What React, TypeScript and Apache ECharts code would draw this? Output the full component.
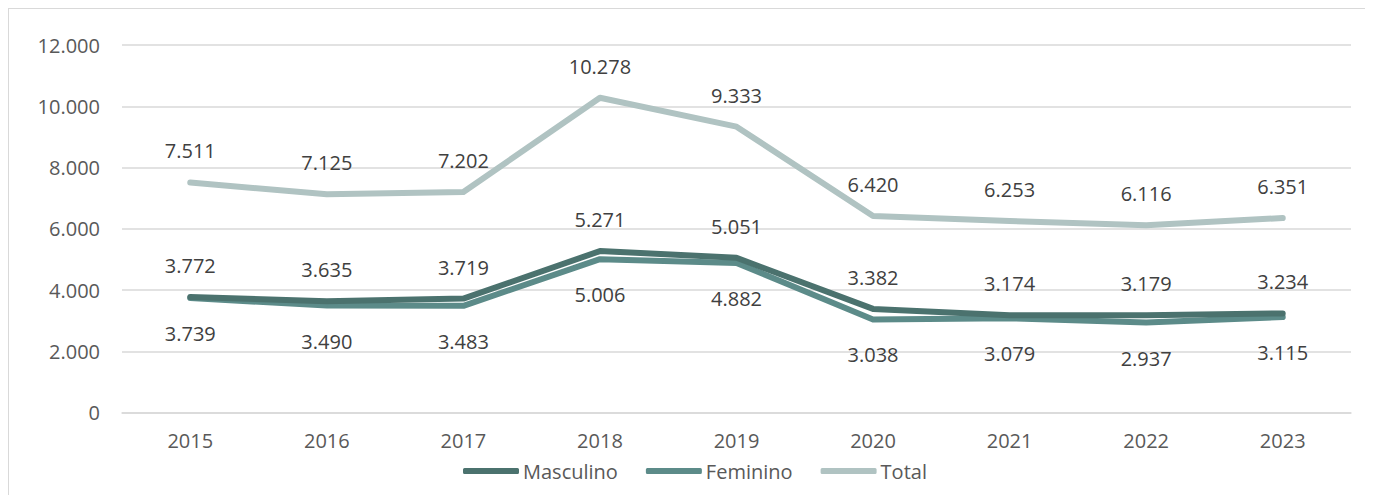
import React, { useEffect, useRef } from "react";
import * as echarts from "echarts";

const years = ["2015", "2016", "2017", "2018", "2019", "2020", "2021", "2022", "2023"];
const masculino = [3772, 3635, 3719, 5271, 5051, 3382, 3174, 3179, 3234];
const feminino = [3739, 3490, 3483, 5006, 4882, 3038, 3079, 2937, 3115];
const total = [7511, 7125, 7202, 10278, 9333, 6420, 6253, 6116, 6351];

const FONT = "'Open Sans', 'Noto Sans', sans-serif";
const fmt = (v: number) => String(v).replace(/\B(?=(\d{3})+(?!\d))/g, ".");

export default function App() {
  const ref = useRef<HTMLDivElement>(null);
  useEffect(() => {
    document.body.style.overflow = "hidden";
    const chart = echarts.init(ref.current!, undefined, { renderer: "svg" });
    const mk = (name: string, data: number[], color: string, pos: string, dist: number, z: number) => ({
      name,
      type: "line",
      data,
      z,
      symbol: "circle",
      symbolSize: 1,
      itemStyle: { color },
      lineStyle: { color, width: 6, cap: "round", join: "round" },
      label: {
        show: true,
        position: pos,
        distance: dist,
        color: "#404040",
        fontFamily: FONT,
        fontSize: 20,
        formatter: (p: any) => fmt(p.value),
      },
    });
    chart.setOption({
      animation: false,
      textStyle: { fontFamily: FONT },
      grid: { left: 113, right: 22, top: 36, bottom: 82.5 },
      legend: {
        left: 454,
        top: 452,
        padding: 0,
        icon: "roundRect",
        itemWidth: 56,
        itemHeight: 6,
        itemGap: 28,
        textStyle: { color: "#595959", fontSize: 20, lineHeight: 18, fontFamily: FONT, padding: [0, 0, 0, -1] },
        data: ["Masculino", "Feminino", "Total"],
      },
      xAxis: {
        type: "category",
        data: years,
        boundaryGap: true,
        axisLine: { show: true, lineStyle: { color: "#d9d9d9", width: 1.5 } },
        axisTick: { show: false },
        axisLabel: { color: "#595959", fontSize: 20, lineHeight: 18, fontFamily: FONT, margin: 19 },
      },
      yAxis: {
        type: "value",
        min: 0,
        max: 12000,
        interval: 2000,
        axisLine: { show: false },
        axisTick: { show: false },
        splitLine: { lineStyle: { color: "#d9d9d9", width: 1.5 } },
        axisLabel: { color: "#595959", fontSize: 20, fontFamily: FONT, margin: 22, formatter: (v: number) => fmt(v) },
      },
      series: [
        mk("Masculino", masculino, "#4b726e", "top", 21, 3),
        mk("Feminino", feminino, "#5c8b89", "bottom", 25, 2),
        mk("Total", total, "#b0c3c2", "top", 21, 1),
      ],
    });
    return () => chart.dispose();
  }, []);
  return (
    <div style={{ borderLeft: "1px solid #d9d9d9", borderTop: "1px solid #d9d9d9", width: 1364, height: 486 }}>
      <div ref={ref} style={{ width: 1364, height: 486 }} />
    </div>
  );
}
